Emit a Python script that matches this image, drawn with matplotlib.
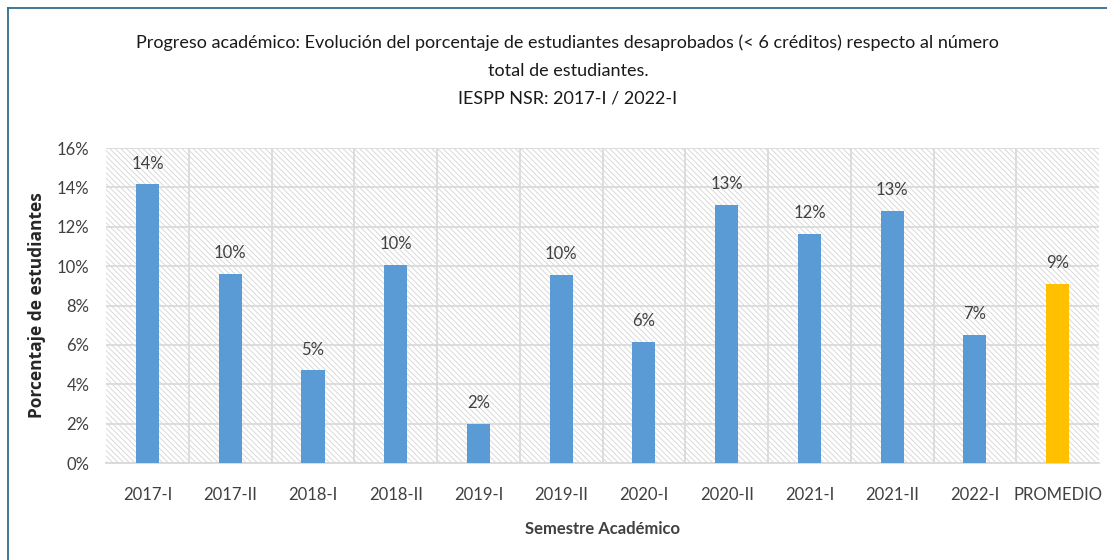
import matplotlib
matplotlib.use("Agg")
import matplotlib.pyplot as plt
from matplotlib.patches import Rectangle
from matplotlib.lines import Line2D
from matplotlib.ticker import FuncFormatter, MultipleLocator

categories = ["2017-I", "2017-II", "2018-I", "2018-II", "2019-I", "2019-II",
              "2020-I", "2020-II", "2021-I", "2021-II", "2022-I", "PROMEDIO"]
values = [14.15, 9.6, 4.7, 10.07, 2.0, 9.56, 6.15, 13.1, 11.65, 12.8, 6.5, 9.1]
labels = ["14%", "10%", "5%", "10%", "2%", "10%", "6%", "13%", "12%", "13%", "7%", "9%"]
colors = ["#5b9bd5"] * 11 + ["#ffc000"]

title = ("Progreso académico: Evolución del porcentaje de estudiantes desaprobados (< 6 créditos) respecto al número\n"
         "total de estudiantes.\nIESPP NSR: 2017-I / 2022-I")

plt.rcParams['font.family'] = ['Lato', 'DejaVu Sans']
plt.rcParams['hatch.linewidth'] = 0.6

fig = plt.figure(figsize=(11.07, 5.60), dpi=100)
ax = fig.add_axes([0.0958, 0.1732, 0.8970, 0.5625])

x = list(range(len(categories)))
ax.set_xlim(-0.5, len(categories) - 0.5)
ax.set_ylim(0, 16)

# hatched background
ax.add_patch(Rectangle((0, 0), 1, 1, transform=ax.transAxes, facecolor="white",
                       edgecolor="#d4d4d4", hatch="\\\\\\\\\\\\", linewidth=0, zorder=0))
ax.set_facecolor("white")

ax.yaxis.set_major_locator(MultipleLocator(2))
ax.yaxis.set_major_formatter(FuncFormatter(lambda v, p: f"{v:.0f}%"))
ax.set_xticks(x)
ax.set_xticklabels(categories)
ax.set_xticks([i + 0.5 for i in x[:-1]], minor=True)
ax.grid(axis="y", which="major", color="#dadada", linewidth=1.3, zorder=1)
ax.grid(axis="x", which="minor", color="#dadada", linewidth=1.3, zorder=1)
ax.grid(axis="x", which="major", visible=False)
ax.set_axisbelow(True)

bars = ax.bar(x, values, width=0.28, color=colors, zorder=3)
for xi, v, lab in zip(x, values, labels):
    ax.text(xi, v + 0.65, lab, ha="center", va="bottom", fontsize=12, color="#404040")

for s in ["left", "right", "top"]:
    ax.spines[s].set_visible(False)
ax.spines["bottom"].set_color("#d9d9d9")
ax.spines["bottom"].set_linewidth(1.3)
ax.tick_params(axis="both", which="both", length=0, labelsize=12, labelcolor="#404040")
ax.tick_params(axis="x", pad=17)
ax.tick_params(axis="y", pad=12)

ax.set_ylabel("Porcentaje de estudiantes", fontsize=12.5, fontweight="bold",
              color="#262626", labelpad=8, family=["Open Sans", "DejaVu Sans"])
ax.set_xlabel("Semestre Académico", fontsize=12, fontweight="bold",
              color="#404040", labelpad=13)

fig.text(0.513, 0.938, title, ha="center", va="top", fontsize=13,
         color="#1a1a1a", linespacing=1.9)

# outer frame
fig.add_artist(Line2D([8 / 1107, 8 / 1107], [1 - 8 / 560, 0], transform=fig.transFigure,
                      color="#2f6e8f", linewidth=1.3))
fig.add_artist(Line2D([8 / 1107, 1], [1 - 8 / 560, 1 - 8 / 560], transform=fig.transFigure,
                      color="#2f6e8f", linewidth=1.3))

fig.savefig("out.png", dpi=100)
